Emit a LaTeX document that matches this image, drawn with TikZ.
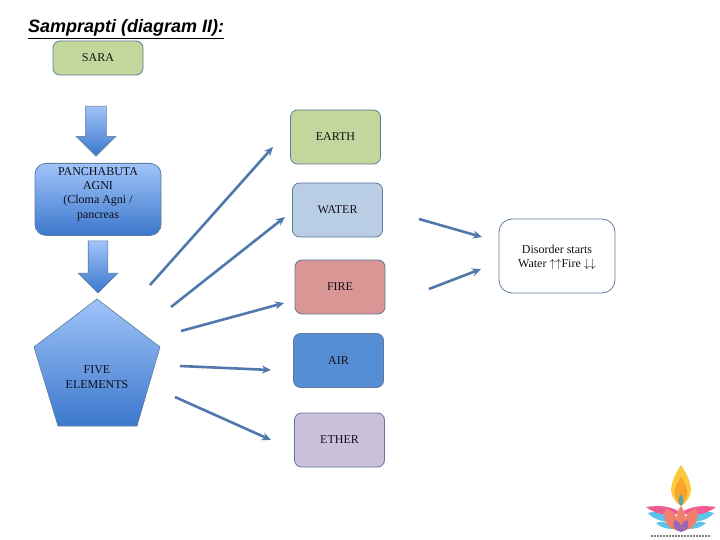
\documentclass[tikz,border=0pt]{standalone}
\usepackage{fontspec}
\setmainfont{Liberation Serif}
\newfontfamily\titlefont{Liberation Sans}
\usetikzlibrary{arrows.meta, shapes.arrows}
\definecolor{ink}{HTML}{101018}
\definecolor{edge}{HTML}{5F7A9C}
\definecolor{flow}{HTML}{4F78AC}
\definecolor{sara}{HTML}{C3D69B}
\definecolor{water}{HTML}{B9CDE5}
\definecolor{fire}{HTML}{D99694}
\definecolor{air}{HTML}{558ED5}
\definecolor{ether}{HTML}{CCC1DA}
\definecolor{gradtop}{HTML}{A0C4FA}
\definecolor{gradlow}{HTML}{3C78CC}
\definecolor{flame}{HTML}{FBC840}
\definecolor{flamein}{HTML}{F8A428}
\definecolor{wick}{HTML}{4FA6B0}
\definecolor{petal}{HTML}{EE5C94}
\definecolor{leaf}{HTML}{5CC4E8}
\definecolor{coral}{HTML}{F0806C}
\definecolor{plum}{HTML}{9A66B8}
\tikzset{
  n/.style={draw=edge, rounded corners=7pt, align=center, text=ink, font=\fontsize{12}{14.3}\selectfont, inner sep=0pt, line width=0.8pt, text depth=0pt},
  el/.style={n, minimum width=90pt, minimum height=54pt},
  grad/.style={top color=gradtop, bottom color=gradlow},
  blk/.style={single arrow, shape border rotate=270, grad, draw=edge, line width=0.6pt, inner sep=0pt},
  a/.style={-{Stealth[length=9pt, width=8pt]}, draw=flow, line width=2.6pt},
}
\begin{document}
\begin{tikzpicture}[x=1pt, y=-1pt]
\useasboundingbox (0,0) rectangle (720,540);
\node[anchor=west, font=\titlefont\fontsize{18}{20}\selectfont\bfseries\itshape] (title) at (24.5,29) {\underline{Samprapti (diagram II):}};
\node[n, fill=sara, minimum width=90pt, minimum height=34pt] (sara) at (98,58) {SARA};
\node[n, grad, rounded corners=11pt, minimum width=126pt, minimum height=72pt, anchor=north] (agni) at (98,163) {PANCHABUTA\\AGNI\\(Cloma Agni /\\pancreas\\[-1pt]};
\node[blk, minimum height=50pt, minimum width=39pt, text width=20pt, single arrow head extend=9.5pt, single arrow head indent=0pt] (arr1) at (96,126) {};
\node[blk, minimum height=52pt, minimum width=39pt, text width=19pt, single arrow head extend=10pt, single arrow head indent=0pt] (arr2) at (98,262) {};

\draw[draw=edge, grad, line width=0.6pt] (97,299) -- (160,347) -- (137,426) -- (58,426) -- (34,347) -- cycle;
\node[n, draw=none, anchor=center] (five) at (97,377) {FIVE\\ELEMENTS};

\node[el, fill=sara] (earth) at (335.5,137) {EARTH};
\node[el, fill=water] (wat) at (337.5,210) {WATER};
\node[el, fill=fire] (fir) at (340,287) {FIRE};
\node[el, fill=air] (ai) at (338.5,360.5) {AIR};
\node[el, fill=ether] (eth) at (339.5,440) {ETHER};
\node[n, fill=white, rounded corners=13pt, minimum width=116pt, minimum height=74pt] (dis) at (557,256) {Disorder starts\\Water $\uparrow\uparrow$Fire $\downarrow\downarrow$};

% free ends of the rays
\coordinate (s1) at (150,285); \coordinate (e1) at (273,147);
\coordinate (s2) at (171,307); \coordinate (e2) at (285,217);
\coordinate (s3) at (181,331); \coordinate (e3) at (284,303);
\coordinate (s4) at (180,366); \coordinate (e4) at (271,370);
\coordinate (s5) at (175,397); \coordinate (e5) at (271,440);
\coordinate (s6) at (419,219); \coordinate (e6) at (482,237);
\coordinate (s7) at (429,289); \coordinate (e7) at (481,269);

\foreach \i in {1,...,7}
  \draw[a] (s\i) -- (e\i);

% logo
\fill[leaf] (648,513) .. controls (656,510) and (666,513) .. (672,522) .. controls (662,522) and (653,519) .. (648,513) -- cycle;
\fill[leaf] (714,513) .. controls (706,510) and (696,513) .. (690,522) .. controls (700,522) and (709,519) .. (714,513) -- cycle;
\fill[leaf] (656,523) .. controls (662,520) and (668,522) .. (673,529) .. controls (666,529) and (660,527) .. (656,523) -- cycle;
\fill[leaf] (706,523) .. controls (700,520) and (694,522) .. (689,529) .. controls (696,529) and (702,527) .. (706,523) -- cycle;
\fill[petal] (646,507) .. controls (660,505) and (672,506) .. (681,513) .. controls (668,517) and (655,514) .. (646,507) -- cycle;
\fill[petal] (716,507) .. controls (702,505) and (690,506) .. (681,513) .. controls (694,517) and (707,514) .. (716,507) -- cycle;
\fill[coral] (681,531) .. controls (668,530) and (661,520) .. (666,508) .. controls (674,511) and (680,520) .. (681,531) -- cycle;
\fill[coral] (681,531) .. controls (694,530) and (701,520) .. (696,508) .. controls (688,511) and (682,520) .. (681,531) -- cycle;
\fill[coral] (681,531) .. controls (675,524) and (675,514) .. (681,506) .. controls (687,514) and (687,524) .. (681,531) -- cycle;
\fill[plum] (681,532) .. controls (673,530) and (672,524) .. (675,520) .. controls (678,521) and (680,523) .. (681,526) .. controls (682,523) and (684,521) .. (687,520) .. controls (690,524) and (689,530) .. (681,532) -- cycle;
\fill[flame] (681,465) .. controls (675,474) and (671,483) .. (671,491) .. controls (672,498) and (677,504) .. (681,506) .. controls (685,504) and (690,498) .. (691,491) .. controls (691,483) and (687,474) .. (681,465) -- cycle;
\fill[flamein] (681,477) .. controls (677,483) and (674,489) .. (675,495) .. controls (676,500) and (679,504) .. (681,506) .. controls (683,504) and (686,500) .. (687,495) .. controls (688,489) and (685,483) .. (681,477) -- cycle;
\fill[wick] (681,494) .. controls (678,498) and (678,503) .. (681,506) .. controls (684,503) and (684,498) .. (681,494) -- cycle;
\draw[gray, line width=1.5pt, dash pattern=on 2pt off 1pt] (651,536) -- (711,536);
\end{tikzpicture}
\end{document}
